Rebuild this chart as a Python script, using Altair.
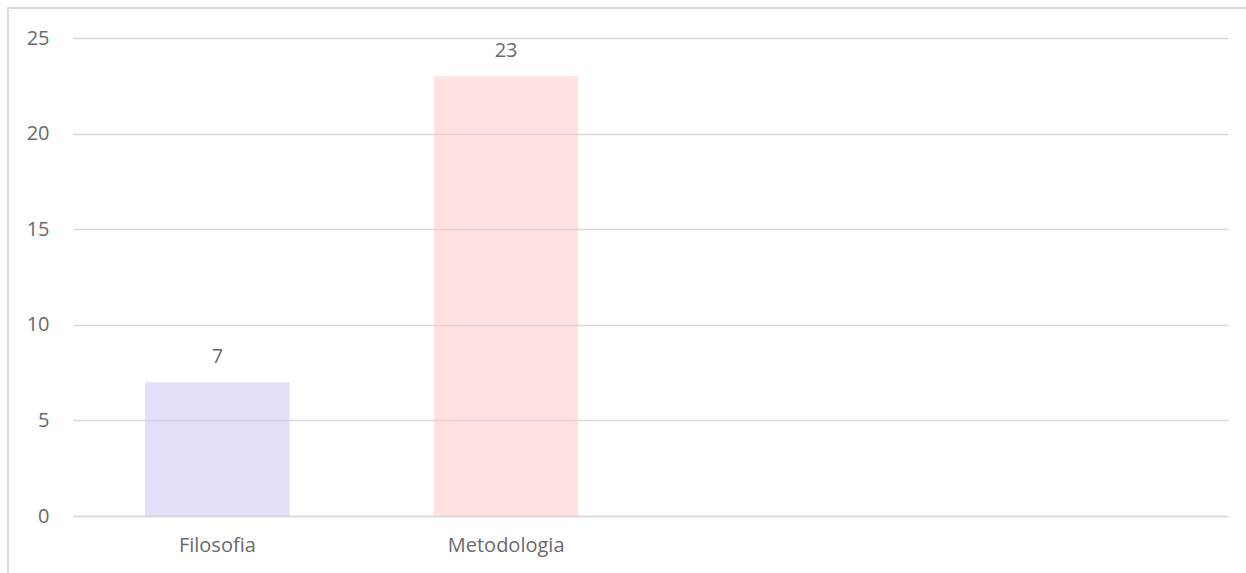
import altair as alt
import pandas as pd

# Bar categories and their counts
categories = ["Filosofia", "Metodologia"]
values = [7, 23]
bar_colors = ["#C4C4F4", "#FFC3C6"]
# The category axis keeps two further, empty slots to the right
axis_slots = categories + [" ", "  "]
y_ticks = [0, 5, 10, 15, 20, 25]

df = pd.DataFrame({"categoria": categories, "valor": values, "cor": bar_colors})

W, H = 1155, 478
FONT = "Open Sans"
TEXT = "#6A6A6A"
GRID = "#D9D9D9"

x_enc = alt.X(
    "categoria:N",
    scale=alt.Scale(domain=axis_slots, paddingInner=0.5, paddingOuter=0.25),
    axis=alt.Axis(
        title=None, labelAngle=0, ticks=False, domain=True, domainColor=GRID,
        domainWidth=1.3, labelFont=FONT, labelFontSize=20, labelColor=TEXT,
        labelPadding=19, grid=False,
    ),
)
y_enc = alt.Y(
    "valor:Q",
    scale=alt.Scale(domain=[0, 25], nice=False),
    axis=alt.Axis(
        title=None, values=y_ticks, ticks=False, domain=False, grid=True,
        gridColor=GRID, gridWidth=1.3, labelFont=FONT, labelFontSize=20,
        labelColor=TEXT, labelPadding=24,
    ),
)

bars = alt.Chart(df).mark_bar(opacity=0.5).encode(
    x=x_enc,
    y=y_enc,
    color=alt.Color("cor:N", scale=None),
)

labels = alt.Chart(df).mark_text(
    font=FONT, fontSize=20, color=TEXT, baseline="alphabetic", dy=-19
).encode(
    x=alt.X("categoria:N", scale=alt.Scale(domain=axis_slots)),
    y=alt.Y("valor:Q"),
    text=alt.Text("valor:Q"),
)

# Light frame around the whole chart area
frame = alt.Chart(df).mark_rect(
    fill=None, stroke=GRID, strokeWidth=1.3
).encode(
    x=alt.value(-65), x2=alt.value(W + 100),
    y=alt.value(-30), y2=alt.value(H + 100),
)

chart = alt.layer(frame, bars, labels).properties(
    width=W, height=H,
    padding={"left": 73, "top": 38, "right": 18, "bottom": 57},
    autosize=alt.AutoSizeParams(type="none"),
    background="white",
).configure_view(stroke=None)

chart.save("out.html", embed_options={"renderer": "svg", "actions": False})
